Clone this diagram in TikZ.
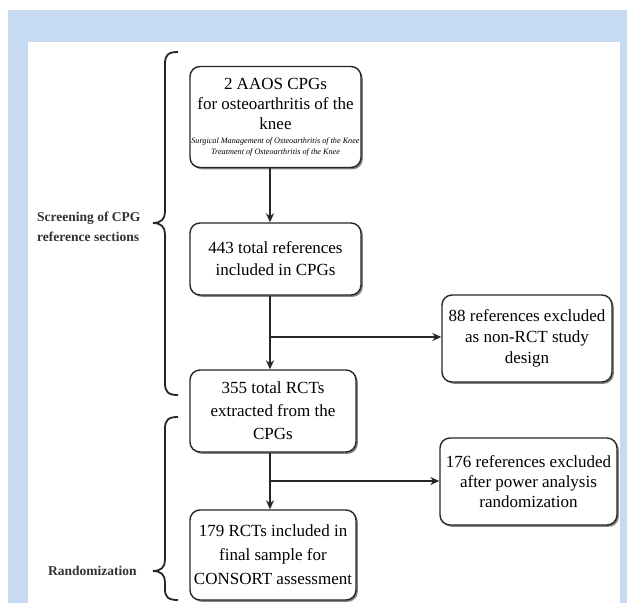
\documentclass[tikz,border=0pt]{standalone}
\usepackage{fontspec}
\setmainfont{Liberation Serif}
\usetikzlibrary{shadows,arrows.meta}
\definecolor{bandblue}{RGB}{198,218,241}
\begin{document}
\begin{tikzpicture}[x=1pt,y=-1pt,
  box/.style={draw=black!85, line width=1.4pt, rounded corners=10pt, fill=white, align=center, text=black,
    inner sep=0pt, drop shadow={shadow xshift=1.8pt, shadow yshift=-1.8pt, fill=black!60, opacity=0.8}},
  arr/.style={line width=1.4pt, draw=black!85, -{Stealth[length=9pt,width=8pt]}},
  brc/.style={line width=1.8pt, draw=black!85},
  lbl/.style={font=\fontsize{13.5}{20}\bfseries\selectfont, text=black!80, align=left, inner sep=0pt, anchor=west}]
\useasboundingbox (0,0) rectangle (627,603);
\fill[white] (0,0) rectangle (627,603);
\fill[bandblue] (8,10) rectangle (627,603);
\fill[white] (28,42) rectangle (620,603);

\node[box, minimum width=171pt, minimum height=101pt, font=\fontsize{17}{20}\selectfont] (b1) at (275.5,117)
  {2 AAOS CPGs\\for osteoarthritis of the\\knee\\[-6pt]{\fontsize{8.2}{9}\itshape\selectfont Surgical Management of Osteoarthritis of the Knee}\\[-9pt]{\fontsize{8.2}{9}\itshape\selectfont Treatment of Osteoarthritis of the Knee}};
\node[box, minimum width=171pt, minimum height=72pt, font=\fontsize{17}{22}\selectfont] (b2) at (275.5,259)
  {443 total references\\included in CPGs};
\node[box, minimum width=166pt, minimum height=82pt, font=\fontsize{17}{23}\selectfont] (b3) at (273,411)
  {355 total RCTs\\extracted from the\\CPGs};
\node[box, minimum width=166pt, minimum height=90pt, font=\fontsize{17}{24}\selectfont] (b4) at (273,555)
  {179 RCTs included in\\final sample for\\CONSORT assessment};
\node[box, minimum width=170pt, minimum height=87pt, font=\fontsize{17}{21}\selectfont] (b88) at (527,338.5)
  {88 references excluded\\as non-RCT study\\design};
\node[box, minimum width=177pt, minimum height=87pt, font=\fontsize{17}{20}\selectfont] (b176) at (528.5,481.5)
  {176 references excluded\\after power analysis\\randomization};

\coordinate (sp) at (270,0);
\draw[arr] (b1.south -| sp) -- (b2.north -| sp);
\draw[arr] (b2.south -| sp) -- (b3.north -| sp);
\draw[arr] (b3.south -| sp) -- (b4.north -| sp);
\coordinate (j1) at (270,337);
\draw[arr] (j1) -- (j1 -| b88.west);
\coordinate (j2) at (270,481);
\draw[arr] (j2) -- (j2 -| b176.west);

\draw[brc] (178,52) .. controls (168,52) and (165,55) .. (165,64) -- (165,212)
  .. controls (165,219) and (161,223) .. (153,223) .. controls (161,223) and (165,227) .. (165,234)
  -- (165,383) .. controls (165,392) and (168,395) .. (178,395);
\draw[brc] (178,417) .. controls (168,417) and (165,420) .. (165,429) -- (165,560)
  .. controls (165,567) and (161,571) .. (153,571) .. controls (161,571) and (165,575) .. (165,582)
  -- (165,589) .. controls (165,597) and (168,600) .. (178,600);

\node[lbl] (l1) at (37,227) {Screening of CPG\\reference sections};
\node[lbl] (l2) at (48,571) {Randomization};
\end{tikzpicture}
\end{document}
